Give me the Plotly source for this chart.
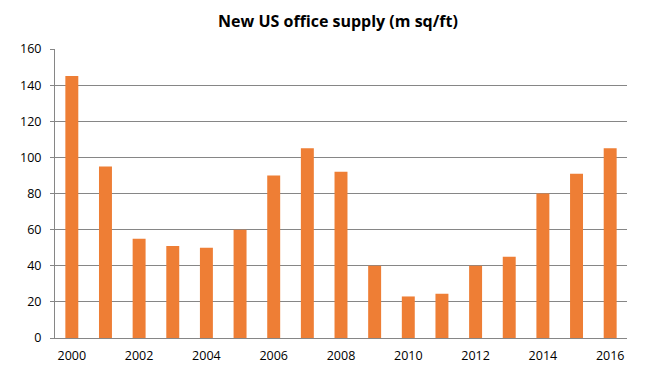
import plotly.graph_objects as go

years = list(range(2000, 2017))
supply = [145, 95, 55, 51, 50, 60, 90, 105, 92, 40, 23, 24.5, 40, 45, 80, 91, 105]
tick_years = [2000, 2002, 2004, 2006, 2008, 2010, 2012, 2014, 2016]
y_ticks = [0, 20, 40, 60, 80, 100, 120, 140, 160]

fig = go.Figure()
fig.add_trace(go.Bar(
    x=years, y=supply, width=0.385,
    marker=dict(color="#EE7E35", line=dict(width=0)),
))

fig.update_layout(
    width=651, height=373,
    margin=dict(l=44, r=32, t=41, b=43),
    paper_bgcolor="white", plot_bgcolor="white",
    title=dict(text="<b>New US office supply (m sq/ft)</b>", x=330 / 651,
               xanchor="center", y=1 - 13 / 373, yanchor="middle",
               font=dict(family="Open Sans", size=16, color="black")),
    showlegend=False,
    font=dict(family="Open Sans", size=12.5, color="black"),
)
fig.update_xaxes(
    range=[1999.5, 2016.5], tickmode="array", tickvals=tick_years,
    ticktext=[str(t) for t in tick_years],
    showgrid=False, showline=True, linecolor="#868686", linewidth=1,
    ticks="", ticklabelstandoff=6,
)
fig.update_yaxes(
    range=[0, 160], tickmode="array", tickvals=y_ticks,
    showgrid=True, gridcolor="#868686", gridwidth=1,
    showline=True, linecolor="#868686", linewidth=1,
    ticks="outside", ticklen=4, tickcolor="#868686",
    zeroline=False, ticklabelstandoff=6,
)

fig.write_html("out.html")
